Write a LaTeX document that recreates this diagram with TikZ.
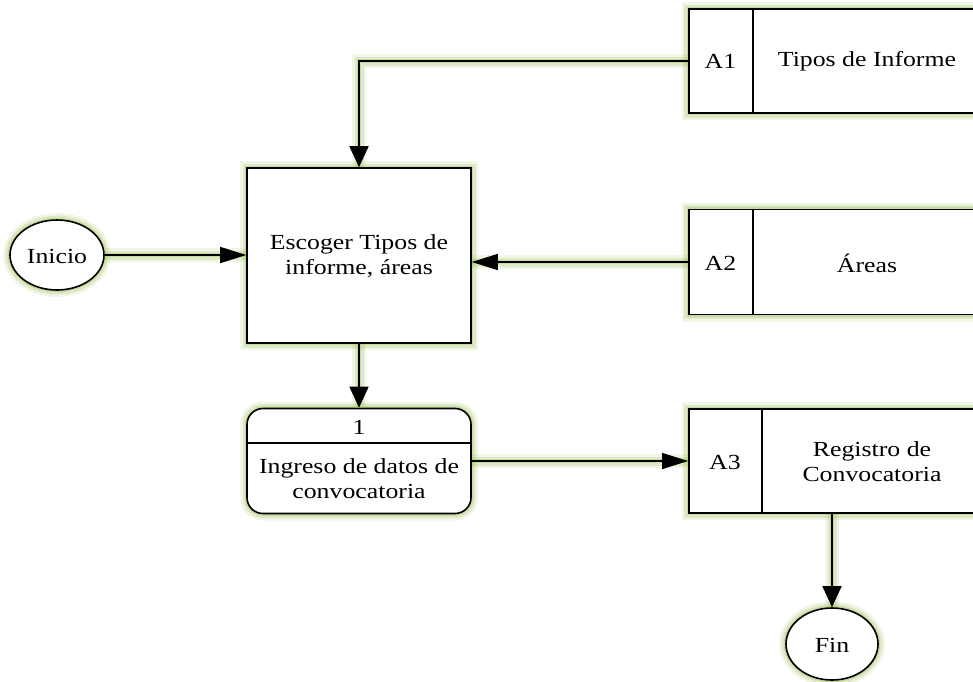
\documentclass[tikz,border=0pt]{standalone}
\usepackage{fontspec}
\setmainfont{Liberation Serif}[FakeStretch=1.2]
\usetikzlibrary{arrows.meta,shapes.geometric}
\definecolor{glowc}{RGB}{155,188,85}
\begin{document}
\begin{tikzpicture}[x=1pt,y=-1pt,
  glow/.style={preaction={draw=glowc,line width=14pt,opacity=.14,-},
               preaction={draw=glowc,line width=9pt,opacity=.22,-},
               preaction={draw=glowc,line width=4.5pt,opacity=.32,-}},
  shapebox/.style={glow,draw=black,line width=1.6pt,fill=white,inner sep=0pt},
  txt/.style={font=\fontsize{21.5}{25}\selectfont,align=center,inner sep=0pt},
  hconn/.style={glow,draw=black,line width=1.6pt,-{Triangle[length=26pt,width=16pt]}},
  vconn/.style={glow,draw=black,line width=1.6pt,-{Triangle[length=21pt,width=19pt]}},
  divline/.style={draw=black,line width=1.6pt}]
\clip (0,0) rectangle (973,681);
% processes
\node[shapebox,minimum width=224pt,minimum height=175pt] (p) at (359,255.5) {};
\node[txt] (pt) at (359,256) {Escoger Tipos de\\informe, áreas};
\node[shapebox,rounded corners=16pt,minimum width=224pt,minimum height=105pt] (r) at (359,461) {};
\draw[divline] (r.west |- 0,443) -- (r.east |- 0,443);
\node[txt] (rn) at (359,427) {1};
\node[txt] (rt) at (359,479) {Ingreso de datos de\\convocatoria};
% stores
\node[shapebox,minimum width=294pt,minimum height=104pt,anchor=west] (s1) at (688,61) {};
\draw[divline] ([xshift=65pt]s1.north west) -- ([xshift=65pt]s1.south west);
\node[txt] (s1a) at (720.5,61) {A1};
\node[txt] (s1b) at (867,61) {Tipos de Informe};
\node[shapebox,minimum width=294pt,minimum height=105pt,anchor=west] (s2) at (688,262) {};
\draw[divline] ([xshift=65pt]s2.north west) -- ([xshift=65pt]s2.south west);
\node[txt] (s2a) at (720.5,263) {A2};
\node[txt] (s2b) at (867,263) {Áreas};
\node[shapebox,minimum width=294pt,minimum height=104pt,anchor=west] (s3) at (688,461) {};
\draw[divline] ([xshift=74pt]s3.north west) -- ([xshift=74pt]s3.south west);
\node[txt] (s3a) at (725,462) {A3};
\node[txt] (s3b) at (872,462) {Registro de\\Convocatoria};
% terminals
\node[shapebox,ellipse,minimum width=94pt,minimum height=70pt] (ini) at (57,255) {};
\node[txt] (init) at (57,256) {Inicio};
\node[shapebox,ellipse,minimum width=92pt,minimum height=72pt] (fin) at (832,644) {};
\node[txt] (fint) at (832,645) {Fin};
% connectors
\draw[vconn] (s1.west) -| (p.north);
\draw[hconn] (s2.west) -- (s2.west -| p.east);
\draw[hconn] (ini.east) -- (ini.east -| p.west);
\draw[vconn] (p.south) -- (r.north);
\draw[hconn] (r.east) -- (s3.west);
\draw[vconn] (fin.north |- s3.south) -- (fin.north);
\end{tikzpicture}
\end{document}
